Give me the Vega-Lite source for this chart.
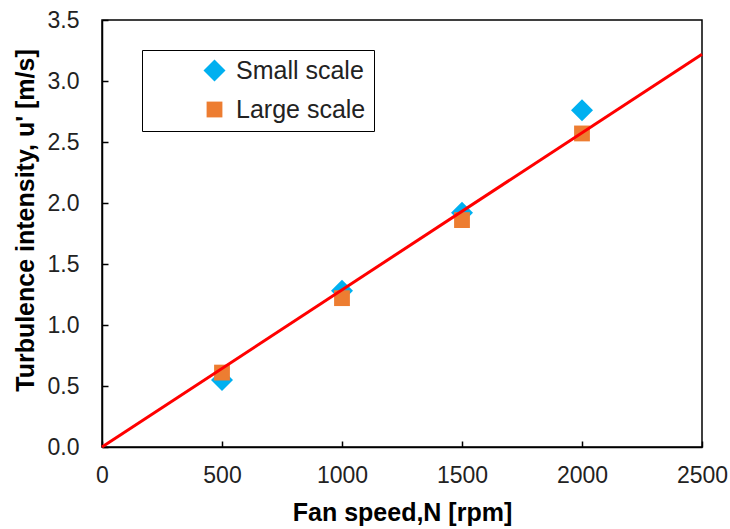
{
  "$schema": "https://vega.github.io/schema/vega-lite/v6.json",
  "autosize": "none",
  "width": 600,
  "height": 427,
  "padding": {"left": 102, "top": 20, "right": 28, "bottom": 82},
  "background": "white",
  "config": {
    "font": "Liberation Sans",
    "view": {"stroke": "black", "strokeWidth": 1.5},
    "axis": {
      "grid": false,
      "domainColor": "black",
      "domainWidth": 1.5,
      "tickColor": "black",
      "tickWidth": 1.5,
      "tickSize": -6,
      "labelFlush": false,
      "labelFont": "Liberation Sans",
      "labelFontSize": 23,
      "labelColor": "#222222",
      "titleFont": "Liberation Sans",
      "titleFontSize": 25,
      "titleFontWeight": "bold",
      "titleColor": "black"
    }
  },
  "datasets": {
    "pts": [
      {"N": 500, "u": 0.55, "series": "Small scale"},
      {"N": 1000, "u": 1.28, "series": "Small scale"},
      {"N": 1500, "u": 1.92, "series": "Small scale"},
      {"N": 2000, "u": 2.76, "series": "Small scale"},
      {"N": 500, "u": 0.61, "series": "Large scale"},
      {"N": 1000, "u": 1.22, "series": "Large scale"},
      {"N": 1500, "u": 1.86, "series": "Large scale"},
      {"N": 2000, "u": 2.57, "series": "Large scale"}
    ],
    "fit": [
      {"N": 0, "u": 0},
      {"N": 2500, "u": 3.22}
    ]
  },
  "layer": [
    {
      "data": {"name": "pts"},
      "mark": {"type": "point", "filled": true, "opacity": 1},
      "encoding": {
        "x": {
          "field": "N", "type": "quantitative",
          "scale": {"domain": [0, 2500], "nice": false},
          "axis": {
            "values": [0, 500, 1000, 1500, 2000, 2500],
            "format": "d",
            "labelPadding": 23,
            "title": "Fan speed,N [rpm]",
            "titleBaseline": "middle",
            "titleY": 65
          }
        },
        "y": {
          "field": "u", "type": "quantitative",
          "scale": {"domain": [0, 3.5], "nice": false},
          "axis": {
            "values": [0, 0.5, 1, 1.5, 2, 2.5, 3, 3.5],
            "format": ".1f",
            "labelPadding": 29,
            "title": "Turbulence intensity, u' [m/s]",
            "titleBaseline": "middle",
            "titleX": -77,
            "titleY": 200
          }
        },
        "color": {
          "field": "series", "type": "nominal",
          "scale": {"domain": ["Small scale", "Large scale"], "range": ["#00B0F0", "#ED7D31"]},
          "legend": {
            "title": null,
            "orient": "none",
            "legendX": 40,
            "legendY": 30,
            "strokeColor": "black",
            "fillColor": "white",
            "padding": 8,
            "symbolOffset": 52,
            "symbolSize": 230,
            "labelOffset": 9,
            "labelFontSize": 25,
            "labelColor": "#222222",
            "rowPadding": 13,
            "encode": {"legend": {"update": {"strokeWidth": {"value": 1.5}}}}
          }
        },
        "shape": {
          "field": "series", "type": "nominal",
          "scale": {"domain": ["Small scale", "Large scale"], "range": ["diamond", "square"]}
        },
        "size": {
          "field": "series", "type": "nominal",
          "scale": {"domain": ["Small scale", "Large scale"], "range": [484, 250]},
          "legend": null
        }
      }
    },
    {
      "data": {"name": "fit"},
      "mark": {"type": "line", "color": "#FF0000", "strokeWidth": 3},
      "encoding": {
        "x": {"field": "N", "type": "quantitative"},
        "y": {"field": "u", "type": "quantitative"}
      }
    }
  ]
}
